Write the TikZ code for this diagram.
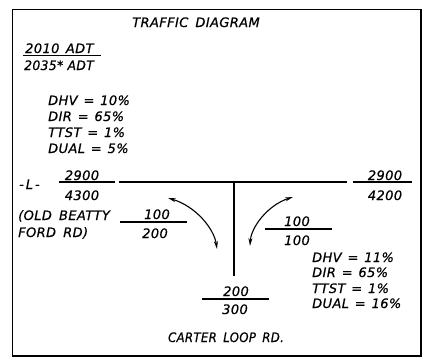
\documentclass[tikz,border=0pt]{standalone}
\usepackage{fontspec}
\setmainfont{DejaVu Sans}[LetterSpace=3,FakeBold=0.6]
\usetikzlibrary{arrows.meta}
\newcommand{\eq}{\hspace{0.45em}=\hspace{0.45em}}
\begin{document}
\begin{tikzpicture}[x=1pt,y=-1pt,
  txt/.style={inner sep=0pt,font=\fontsize{13}{15}\selectfont\itshape},
  lw/.style={txt,anchor=base west},
  cw/.style={txt,anchor=base},
  ln/.style={line width=1.3pt},
  turn/.style={line width=1.1pt,{Stealth[length=8pt,width=4pt]}-{Stealth[length=8pt,width=4pt]}}]
\useasboundingbox (0,0) rectangle (442,360);
\draw[line width=1.6pt] (12.3,9.3) rectangle (420.7,355.7);
\node[cw] (title) at (196,27) {TRAFFIC\hspace{0.2em} DIAGRAM};
\node[lw] (adt1) at (25,53) {2010\hspace{0.15em} ADT};
\node[lw] (adt2) at (24,70) {\scalebox{0.95}[1]{2035* ADT}};
\coordinate (u1) at (23,55.5); \coordinate (u2) at (101,55.5);
\draw[line width=1pt] (u1) -- (u2);
\node[lw] (dhv1) at (48,105) {DHV\eq 10\%};
\node[lw] (dir1) at (48,121) {DIR\eq 65\%};
\node[lw] (tt1) at (48,137) {TTST\eq 1\%};
\node[lw] (du1) at (48,153) {DUAL\eq 5\%};
\node[lw] (L) at (19,189) {-\hspace{0.15em}L\hspace{0.15em}-};
\node[cw] (a1) at (82,180) {2900};
\node[cw] (a2) at (82,200) {4300};
\coordinate (f1a) at (59,182); \coordinate (f1b) at (115,182);
\draw[ln] (f1a) -- (f1b);
\coordinate (r1) at (119,182); \coordinate (r2) at (347,182); \coordinate (rj) at (234,182); \coordinate (rs) at (234,276);
\draw[ln] (r1) -- (r2);
\draw[ln] (rj) -- (rs);
\coordinate (f2a) at (353,182); \coordinate (f2b) at (412,182);
\draw[ln] (f2a) -- (f2b);
\node[cw] (b1) at (385,180) {2900};
\node[cw] (b2) at (385,200) {4200};
\node[lw] (ob1) at (18,220) {(OLD\hspace{0.2em} BEATTY};
\node[lw] (ob2) at (18,237) {FORD\hspace{0.2em} RD)};
\coordinate (f3a) at (120,222); \coordinate (f3b) at (187,222);
\draw[ln] (f3a) -- (f3b);
\node[cw] (c1) at (157,219) {100};
\node[cw] (c2) at (155,238) {200};
\coordinate (f4a) at (265,229); \coordinate (f4b) at (332,229);
\draw[ln] (f4a) -- (f4b);
\node[cw] (d1) at (297,226) {100};
\node[cw] (d2) at (297,245) {100};
\coordinate (f5a) at (202,299); \coordinate (f5b) at (269,299);
\draw[ln] (f5a) -- (f5b);
\node[cw] (e1) at (236,296) {200};
\node[cw] (e2) at (235,314) {300};
\node[lw] (dhv2) at (312,262) {DHV\eq 11\%};
\node[lw] (dir2) at (312,277) {DIR\eq 65\%};
\node[lw] (tt2) at (312,293) {TTST\eq 1\%};
\node[lw] (du2) at (312,308) {DUAL\eq 16\%};
\node[cw] (carter) at (226,342) {\scalebox{0.9}[1]{CARTER\hspace{0.2em} LOOP\hspace{0.2em} RD.}};
\coordinate (la) at (168,198); \coordinate (lb) at (217,249);
\draw[turn] (la) .. controls (195,206) and (214,228) .. (lb);
\coordinate (ra) at (293,197); \coordinate (rb) at (250,246);
\draw[turn] (ra) .. controls (268,205) and (251,227) .. (rb);
\end{tikzpicture}
\end{document}
